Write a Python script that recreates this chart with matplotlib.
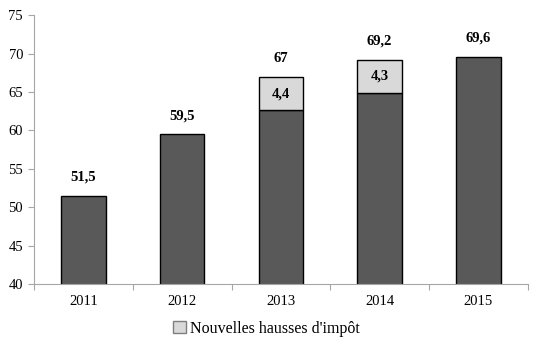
import matplotlib
matplotlib.use("Agg")
from matplotlib import pyplot as plt
from matplotlib.patches import Patch

years = ['2011', '2012', '2013', '2014', '2015']
base = [51.5, 59.5, 62.6, 64.9, 69.6]
hausses = [0, 0, 4.4, 4.3, 0]
totals = ['51,5', '59,5', '67', '69,2', '69,6']
hausse_labels = ['', '', '4,4', '4,3', '']

plt.rcParams['font.family'] = ['Liberation Serif', 'DejaVu Serif']

fig = plt.figure(figsize=(5.33, 3.53), dpi=100)
ax = fig.add_axes([0.064, 0.195, 0.926, 0.762])

x = range(len(years))
w = 0.45
ax.bar(x, base, w, bottom=0, color='#595959', edgecolor='black', linewidth=1, zorder=2)
for i in x:
    if hausses[i] > 0:
        ax.bar(i, hausses[i], w, bottom=base[i], color='#d9d9d9', edgecolor='black',
               linewidth=1, zorder=2)
        ax.text(i, base[i] + hausses[i] / 2, hausse_labels[i], ha='center', va='center',
                fontsize=10.5, fontweight='bold')
    top = base[i] + hausses[i]
    ax.text(i, top + 2.4, totals[i], ha='center', va='center', fontsize=10.5, fontweight='bold')

ax.set_ylim(40, 75)
ax.set_xlim(-0.5, 4.5)
ax.set_yticks(range(40, 80, 5))
ax.set_xticks([i - 0.5 for i in range(6)])
ax.set_xticklabels([])
ax.set_xticks(list(x), minor=True)
ax.set_xticklabels(years, minor=True)
ax.tick_params(axis='x', which='minor', length=0, pad=8, labelsize=10.5)
ax.tick_params(axis='x', which='major', length=4, color='#a6a6a6', direction='out')
ax.tick_params(axis='y', length=4, color='#a6a6a6', labelsize=10.5, pad=4)
for s in ['top', 'right']:
    ax.spines[s].set_visible(False)
for s in ['left', 'bottom']:
    ax.spines[s].set_color('#a6a6a6')

handle = Patch(facecolor='#d9d9d9', edgecolor='#7f7f7f', label="Nouvelles hausses d'impôt")
fig.legend(handles=[handle], loc='lower center', bbox_to_anchor=(0.5, 0.005), frameon=False,
           fontsize=11.5, handlelength=0.8, handleheight=0.8, handletextpad=0.3)

fig.savefig('out.png', dpi=100)
